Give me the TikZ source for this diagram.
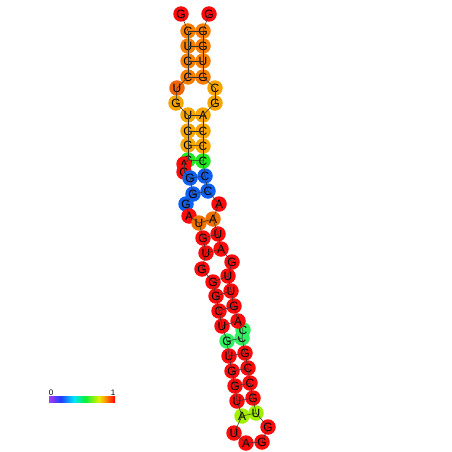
\documentclass[tikz,border=0pt]{standalone}
\usepackage{fontspec}
\setmainfont{Liberation Sans}
\definecolor{cR}{RGB}{250,12,12}
\definecolor{cO}{RGB}{248,126,0}
\definecolor{cOd}{RGB}{240,100,10}
\definecolor{cOm}{RGB}{240,112,0}
\definecolor{cA}{RGB}{247,165,0}
\definecolor{cG}{RGB}{34,232,34}
\definecolor{cS}{RGB}{48,240,96}
\definecolor{cB}{RGB}{16,96,240}
\definecolor{cY}{RGB}{160,240,0}
\definecolor{cbP}{RGB}{165,60,245}
\definecolor{cbB}{RGB}{30,60,255}
\definecolor{cbC}{RGB}{0,230,255}
\definecolor{cbG}{RGB}{0,240,60}
\definecolor{cbY}{RGB}{230,240,0}
\definecolor{cbO}{RGB}{255,140,0}
\definecolor{cbR}{RGB}{255,0,0}
\begin{document}
\begin{tikzpicture}[x=1pt,y=-1pt,
  nt/.style={circle, minimum size=15.5pt, inner sep=0pt, font=\fontsize{12}{12}\selectfont},
  bb/.style={line width=0.5pt, black!80},
  lbl/.style={font=\fontsize{8}{8}\selectfont, inner sep=0pt}]
\useasboundingbox (0,0) rectangle (452,452);
\foreach \i/\x/\y/\l/\c in {
 1/181/14/G/cR, 2/188/31/C/cO, 3/188/46/U/cO, 4/188/61/G/cO, 5/188/77/C/cO,
 6/177/88/U/cOd, 7/176/103/G/cA, 8/188/115/U/cA, 9/188/131/G/cA, 10/188/145/G/cA,
 11/188/160/G/cG, 12/184/164/A/cR, 13/184/172/G/cR, 14/190/178/G/cB, 15/193/194/G/cB,
 16/186/204/G/cB, 17/189/216/A/cR, 18/199/223/U/cOm, 19/203/238/G/cR, 20/206/253/U/cR,
 21/202/269/G/cR, 22/213/282/G/cR, 23/216/296/G/cR, 24/219/311/C/cR, 25/222/326/U/cR,
 26/227/341/G/cS, 27/229/356/U/cR, 28/232/371/G/cR, 29/235/386/G/cR, 30/237/401/U/cR,
 31/242/416/A/cY, 32/234/433/U/cR, 33/246/443/A/cR, 34/262/442/G/cR, 35/268/427/G/cR,
 36/256/413/U/cY, 37/253/398/G/cR, 38/250/383/C/cR, 39/248/368/C/cR, 40/245/353/G/cR,
 41/242/338/C/cS, 42/243/330/C/cS, 43/238/321/A/cR, 44/234/306/G/cR, 45/231/291/U/cR,
 46/228/276/U/cR, 47/232/262/G/cR, 48/221/249/A/cR, 49/218/234/U/cR, 50/213/219/A/cOm,
 51/219/204/A/cR, 52/208/191/C/cB, 53/205/176/C/cB, 54/203/161/C/cG, 55/203/146/C/cA,
 56/203/131/C/cA, 57/203/115/A/cA, 58/215/103/G/cA, 59/215/88/C/cA, 60/203/77/G/cO,
 61/203/61/U/cO, 62/203/46/G/cO, 63/203/31/G/cO, 64/209/14/G/cR}
  \node[nt, fill=\c] (n\i) at (\x,\y) {\l};
\foreach \i [evaluate=\i as \j using int(\i+1)] in {1,...,63}
  \draw[bb] (n\i.center) -- (n\j.center);
\foreach \a/\b in {2/63,3/62,4/61,5/60,8/57,9/56,10/55,11/54,14/53,15/52,18/50,19/49,20/48,
  22/46,23/45,24/44,25/43,26/41,27/40,28/39,29/38,30/37,31/36}
  \draw[bb] (n\a.center) -- (n\b.center);
% colour scale
\shade[left color=cbP, right color=cbB] (49,396) rectangle (61,402);
\shade[left color=cbB, right color=cbC] (60.8,396) rectangle (74,402);
\shade[left color=cbC, right color=cbG] (73.8,396) rectangle (85,402);
\shade[left color=cbG, right color=cbY] (84.8,396) rectangle (99,402);
\shade[left color=cbY, right color=cbO] (98.8,396) rectangle (106,402);
\shade[left color=cbO, right color=cbR] (105.8,396) rectangle (115,402);
\node[lbl] (s0) at (51,392.5) {0};
\node[lbl] (s1) at (113,392.5) {1};
\end{tikzpicture}
\end{document}
